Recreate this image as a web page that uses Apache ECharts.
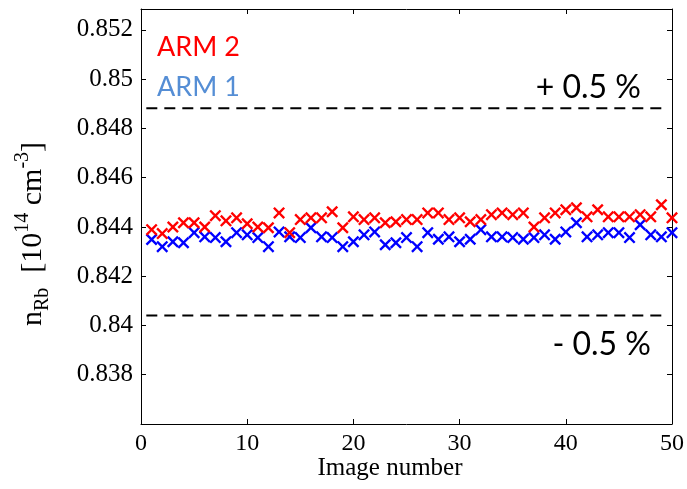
<!DOCTYPE html>
<html>
<head>
<meta charset="utf-8">
<script src="https://cdn.jsdelivr.net/npm/echarts@6/dist/echarts.min.js"></script>
<style>html,body{margin:0;padding:0;background:#fff}#c{width:687px;height:489px}</style>
</head>
<body>
<div id="c"></div>
<script>
var imageNumber = [1,2,3,4,5,6,7,8,9,10,11,12,13,14,15,16,17,18,19,20,21,22,23,24,25,26,27,28,29,30,31,32,33,34,35,36,37,38,39,40,41,42,43,44,45,46,47,48,49,50];
var arm2 = [0.84389,0.84373,0.84400,0.84417,0.84417,0.84400,0.84446,0.84425,0.84437,0.84413,
            0.84400,0.84397,0.84457,0.84377,0.84430,0.84437,0.84437,0.84462,0.84397,0.84441,
            0.84430,0.84437,0.84417,0.84421,0.84430,0.84430,0.84457,0.84457,0.84430,0.84437,
            0.84421,0.84430,0.84450,0.84457,0.84450,0.84457,0.84400,0.84437,0.84457,0.84470,
            0.84478,0.84441,0.84470,0.84441,0.84441,0.84441,0.84450,0.84441,0.84490,0.84437];
var arm1 = [0.84349,0.84320,0.84340,0.84336,0.84377,0.84360,0.84357,0.84340,0.84377,0.84368,
            0.84357,0.84320,0.84380,0.84360,0.84357,0.84397,0.84360,0.84357,0.84320,0.84340,
            0.84368,0.84380,0.84328,0.84336,0.84357,0.84320,0.84377,0.84350,0.84360,0.84340,
            0.84350,0.84389,0.84360,0.84360,0.84357,0.84350,0.84357,0.84368,0.84350,0.84380,
            0.84417,0.84360,0.84368,0.84377,0.84377,0.84357,0.84409,0.84368,0.84360,0.84377];
var upperLimit = 0.84882;
var lowerLimit = 0.84041;
var limitSpan = [0.5, 49.5];
var xTicks = [0, 10, 20, 30, 40, 50];
var yTicks = [0.838, 0.84, 0.842, 0.844, 0.846, 0.848, 0.85, 0.852];

function zip(xs, ys) { return xs.map(function (x, i) { return [x, ys[i]]; }); }
var crossPath = 'path://M0,1.4L1.4,0L5,3.6L8.6,0L10,1.4L6.4,5L10,8.6L8.6,10L5,6.4L1.4,10L0,8.6L3.6,5Z';
var serif = '"Liberation Serif", "Times New Roman", serif';
var sans = 'Lato, "Open Sans", sans-serif';

function yFmt(v) {
  for (var i = 0; i < yTicks.length; i++) {
    if (Math.abs(yTicks[i] - v) < 1e-7) return String(yTicks[i]);
  }
  return '';
}
function xFmt(v) { return xTicks.indexOf(v) >= 0 ? String(v) : ''; }

var axisCommon = {
  axisLine: { show: true, onZero: false, lineStyle: { color: '#000', width: 1 } },
  axisTick: { show: true, inside: true, length: 5, lineStyle: { color: '#000', width: 1 } },
  splitLine: { show: false }
};

var chart = echarts.init(document.getElementById('c'), null, { renderer: 'canvas' });
chart.setOption({
  animation: false,
  backgroundColor: '#fff',
  grid: { left: 141, right: 14, top: 9, bottom: 65, containLabel: false },
  xAxis: [
    Object.assign({
      type: 'value', min: 0, max: 50, interval: 10, position: 'bottom',
      axisLabel: { color: '#000', fontFamily: serif, fontSize: 24, margin: 8, formatter: xFmt }
    }, axisCommon),
    Object.assign({
      type: 'value', min: 0, max: 50, interval: 10, position: 'top',
      axisLabel: { show: false }
    }, axisCommon)
  ],
  yAxis: [
    Object.assign({
      type: 'value', min: 0.836, max: 0.85285, interval: 0.002, position: 'left',
      axisLabel: { color: '#000', fontFamily: serif, fontSize: 25, margin: 8, formatter: yFmt }
    }, axisCommon),
    Object.assign({
      type: 'value', min: 0.836, max: 0.85285, interval: 0.002, position: 'right',
      axisLabel: { show: false }
    }, axisCommon)
  ],
  series: [
    {
      type: 'line', data: [[limitSpan[0], upperLimit], [limitSpan[1], upperLimit]],
      symbol: 'none', silent: true,
      lineStyle: { color: '#000', width: 2, type: [11, 7] }
    },
    {
      type: 'line', data: [[limitSpan[0], lowerLimit], [limitSpan[1], lowerLimit]],
      symbol: 'none', silent: true,
      lineStyle: { color: '#000', width: 2, type: [11, 7] }
    },
    {
      name: 'ARM 1', type: 'scatter', data: zip(imageNumber, arm1),
      symbol: crossPath, symbolSize: 12, itemStyle: { color: '#0000ff', opacity: 1 }
    },
    {
      name: 'ARM 2', type: 'scatter', data: zip(imageNumber, arm2),
      symbol: crossPath, symbolSize: 12, itemStyle: { color: '#ff0000', opacity: 1 }
    }
  ],
  graphic: [
    { type: 'text', x: 157, y: 47, style: { text: 'ARM 2', fill: '#ff0000', font: '27px ' + sans, textAlign: 'left', textVerticalAlign: 'middle' } },
    { type: 'text', x: 157, y: 87, style: { text: 'ARM 1', fill: '#558ED5', font: '27px ' + sans, textAlign: 'left', textVerticalAlign: 'middle' } },
    { type: 'text', x: 641, y: 88, style: { text: '+ 0.5 %', fill: '#000', font: '32px ' + sans, textAlign: 'right', textVerticalAlign: 'middle' } },
    { type: 'text', x: 651, y: 345, style: { text: '- 0.5 %', fill: '#000', font: '32px ' + sans, textAlign: 'right', textVerticalAlign: 'middle' } },
    { type: 'text', x: 390, y: 468, style: { text: 'Image number', fill: '#000', font: '25px ' + serif, textAlign: 'center', textVerticalAlign: 'middle' } },
    {
      type: 'text', x: 33, y: 234, rotation: Math.PI / 2,
      style: {
        text: '{b|n}{sub|Rb}{b|  [10}{sup|14}{b| cm}{sup|-3}{b|]}',
        fill: '#000', textAlign: 'center', textVerticalAlign: 'middle',
        rich: {
          b: { fontFamily: serif, fontSize: 30, lineHeight: 40, fill: '#000' },
          sub: { fontFamily: serif, fontSize: 20, lineHeight: 20, verticalAlign: 'bottom', fill: '#000' },
          sup: { fontFamily: serif, fontSize: 20, lineHeight: 20, verticalAlign: 'top', fill: '#000' }
        }
      }
    }
  ]
});
</script>
</body>
</html>
